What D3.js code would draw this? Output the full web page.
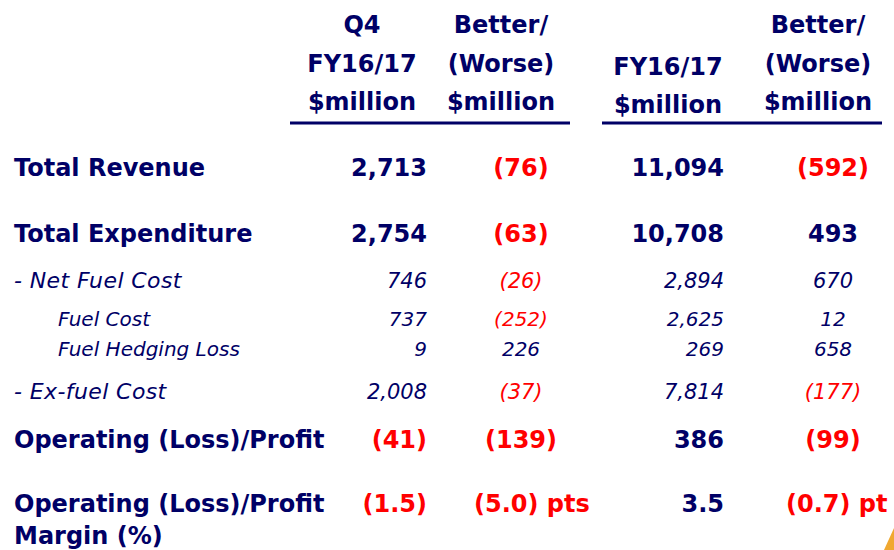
<!DOCTYPE html>
<html lang="en">
<head>
    <meta charset="utf-8">
    <title>Q4 FY16/17 Financial Results</title>
    <script src="https://d3js.org/d3.v7.min.js"></script>
    <style>
        html, body { margin: 0; padding: 0; background: #fff; overflow: hidden; }
        text { font-family: "DejaVu Sans", Verdana, sans-serif; }
    </style>
</head>
<body>
<div id="chart"></div>
<script>
	// table contents
	var rowLabels = ["Total Revenue", "Total Expenditure", "- Net Fuel Cost", "Fuel Cost",
		"Fuel Hedging Loss", "- Ex-fuel Cost", "Operating (Loss)/Profit", "Operating (Loss)/Profit|Margin (%)"];
	var rowLevel = ["main", "main", "sub", "subsub", "subsub", "sub", "main", "main"];
	var q4Values = ["2,713", "2,754", "746", "737", "9", "2,008", "(41)", "(1.5)"];
	var q4Change = ["(76)", "(63)", "(26)", "(252)", "226", "(37)", "(139)", "(5.0) pts"];
	var fyValues = ["11,094", "10,708", "2,894", "2,625", "269", "7,814", "386", "3.5"];
	var fyChange = ["(592)", "493", "670", "12", "658", "(177)", "(99)", "(0.7) pt"];
	var headers = [
		["Q4", "FY16/17", "$million"],
		["Better/", "(Worse)", "$million"],
		["", "FY16/17", "$million"],
		["Better/", "(Worse)", "$million"]
	];

	(function () {
		var width = 894, height = 550,
			navy = "#000066", red = "#ff0000";

		var svg = d3.select("#chart").append("svg")
			.attr("width", width).attr("height", height);

		// layout
		var rowY = d3.scaleOrdinal()
			.domain(d3.range(rowLabels.length))
			.range([176, 242, 288, 326, 356, 399, 448, 512]);
		var colX = d3.scaleOrdinal().domain([0, 1, 2, 3]).range([427, 521, 724, 833]);
		var colAnchor = ["end", "middle", "end", "middle"];
		var headX = d3.scaleOrdinal().domain([0, 1, 2, 3]).range([362, 501, 668, 818]);
		var headY = d3.scaleOrdinal().domain([0, 1, 2]).range([33, 72, 110]);
		var fonts = {
			main: {size: 24, valueSize: 24, weight: "bold", style: "normal", indent: 14, spacing: 0},
			sub: {size: 22, valueSize: 21, weight: "normal", style: "italic", indent: 14, spacing: 0.4},
			subsub: {size: 20, valueSize: 20, weight: "normal", style: "italic", indent: 58, spacing: 0}
		};

		// column headers
		headers.forEach(function (lines, c) {
			svg.append("g").selectAll("text")
				.data(lines)
				.enter().append("text")
				.attr("x", headX(c))
				.attr("y", function (d, i) { return headY(i) + (c === 2 ? 3 : 0); })
				.attr("text-anchor", "middle")
				.style("font-size", "24px")
				.style("font-weight", "bold")
				.style("fill", navy)
				.text(function (d) { return d; });
		});

		// header rules
		svg.selectAll(".rule")
			.data([[290, 570], [602, 882]])
			.enter().append("line")
			.attr("class", "rule")
			.attr("x1", function (d) { return d[0]; })
			.attr("x2", function (d) { return d[1]; })
			.attr("y1", 123).attr("y2", 123)
			.style("stroke", navy)
			.style("stroke-width", 3);

		// row labels
		var labels = svg.append("g").selectAll("text")
			.data(rowLabels)
			.enter().append("text")
			.attr("x", function (d, i) { return fonts[rowLevel[i]].indent; })
			.attr("y", function (d, i) { return rowY(i); })
			.style("font-size", function (d, i) { return fonts[rowLevel[i]].size + "px"; })
			.style("font-weight", function (d, i) { return fonts[rowLevel[i]].weight; })
			.style("font-style", function (d, i) { return fonts[rowLevel[i]].style; })
			.style("letter-spacing", function (d, i) { return fonts[rowLevel[i]].spacing + "px"; })
			.style("fill", navy);

		labels.selectAll("tspan")
			.data(function (d) { return d.split("|"); })
			.enter().append("tspan")
			.attr("x", function () { return this.parentNode.getAttribute("x"); })
			.attr("dy", function (d, i) { return i ? 32 : 0; })
			.text(function (d) { return d; });

		// value cells; cells with a "pt(s)" unit start a little left of the column centre
		var withUnit = / pts?$/;
		[q4Values, q4Change, fyValues, fyChange].forEach(function (col, c) {
			svg.append("g").selectAll("text")
				.data(col)
				.enter().append("text")
				.attr("x", function (d) { return withUnit.test(d) ? colX(c) - 47 : colX(c); })
				.attr("y", function (d, i) { return rowY(i); })
				.attr("text-anchor", function (d) { return withUnit.test(d) ? "start" : colAnchor[c]; })
				.style("font-size", function (d, i) { return fonts[rowLevel[i]].valueSize + "px"; })
				.style("font-weight", function (d, i) { return fonts[rowLevel[i]].weight; })
				.style("font-style", function (d, i) { return fonts[rowLevel[i]].style; })
				.style("fill", function (d) { return d.charAt(0) === "(" ? red : navy; })
				.text(function (d) { return d; });
		});

		// corner of the logo
		svg.append("path")
			.attr("d", "M894,528 L884,550 L894,550 Z")
			.style("fill", "#f0a830");
	}());
</script>
</body>
</html>
